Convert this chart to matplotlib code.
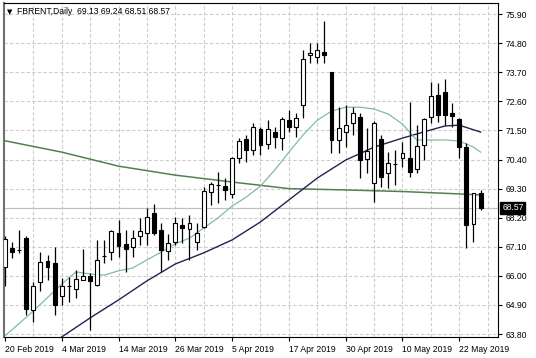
import matplotlib
matplotlib.use("Agg")
import matplotlib.pyplot as plt
import matplotlib.transforms as mtransforms

# daily FBRENT candles, one per trading day from 20 Feb 2019
opens = [66.33, 67.05, 66.99, 67.42, 64.71, 65.75, 66.57, 66.50, 65.24, 65.60,
         65.50, 65.85, 66.00, 65.66, 66.75, 66.92, 67.64, 67.21, 67.11, 67.49,
         67.61, 68.39, 67.74, 66.95, 67.30, 67.92, 67.76, 67.30, 67.86, 69.16,
         69.43, 69.41, 69.08, 70.45, 71.16, 70.76, 71.54, 70.97, 71.45, 71.20,
         71.89, 71.62, 72.46, 74.35, 74.29, 74.48, 73.70, 71.14, 71.45, 71.77,
         72.02, 70.41, 69.50, 71.16, 69.90, 70.23, 70.44, 70.44, 70.03, 70.95,
         72.02, 72.84, 72.96, 72.17, 71.92, 70.88, 67.96, 69.13]
highs = [67.50, 67.30, 67.74, 67.49, 65.78, 66.92, 66.79, 67.11, 65.91, 65.97,
         66.23, 67.00, 66.10, 67.36, 67.36, 67.74, 68.12, 67.74, 67.74, 68.18,
         68.56, 68.72, 67.99, 67.60, 68.24, 68.18, 68.30, 67.99, 69.37, 69.56,
         69.94, 69.69, 70.51, 71.20, 71.33, 71.77, 71.64, 71.89, 71.64, 72.02,
         72.27, 72.15, 74.54, 74.82, 74.79, 75.65, 73.70, 72.40, 72.46, 72.40,
         72.15, 71.58, 71.87, 71.33, 70.70, 70.76, 71.07, 72.59, 71.70, 71.96,
         73.34, 73.28, 73.43, 72.52, 71.96, 71.01, 69.12, 69.24]
lows = [65.60, 66.67, 66.86, 64.53, 64.27, 65.41, 65.85, 64.53, 64.90, 65.03,
        65.15, 65.85, 63.96, 65.60, 66.48, 66.60, 66.73, 66.16, 66.73, 67.17,
        67.17, 67.55, 66.16, 66.60, 67.17, 67.23, 66.60, 66.98, 67.80, 68.68,
        68.74, 68.87, 68.93, 70.28, 70.32, 70.57, 70.57, 70.79, 70.82, 70.76,
        71.45, 71.24, 71.96, 74.04, 74.04, 74.04, 70.63, 70.63, 70.89, 71.33,
        69.69, 69.88, 68.81, 69.37, 69.31, 69.44, 70.13, 69.75, 69.88, 70.38,
        71.77, 71.83, 71.70, 71.64, 70.44, 67.04, 67.29, 68.51]
closes = [67.39, 66.92, 66.97, 64.74, 65.60, 66.54, 66.35, 64.90, 65.60, 65.62,
          65.87, 66.00, 65.82, 66.60, 66.77, 67.68, 67.13, 67.01, 67.42, 67.68,
          68.24, 67.64, 66.98, 67.25, 68.01, 67.80, 67.99, 67.61, 69.21, 69.46,
          69.44, 69.25, 70.45, 71.10, 70.76, 71.64, 70.95, 71.55, 71.26, 71.92,
          71.62, 71.96, 74.19, 74.44, 74.56, 74.35, 71.14, 71.58, 71.70, 72.17,
          70.38, 70.73, 71.77, 69.75, 70.26, 70.24, 70.66, 69.94, 70.91, 71.92,
          72.80, 72.08, 72.08, 72.06, 70.86, 67.92, 69.12, 68.57]

# moving averages (bar index, value)
fast_idx = [0, 4, 8, 10, 12, 14, 16, 18, 20, 22, 24, 26, 28, 30, 32, 34, 36, 38,
            40, 42, 44, 46, 48, 50, 52, 54, 56, 57, 58, 60, 62, 64, 66, 67]
fast_ma = [63.73, 64.67, 65.69, 66.15, 66.07, 66.03, 66.19, 66.30, 66.60, 66.90,
           67.21, 67.43, 67.81, 68.19, 68.64, 68.98, 69.40, 70.00, 70.68, 71.33,
           71.89, 72.23, 72.38, 72.38, 72.31, 72.12, 71.74, 71.44, 71.14, 71.14,
           71.14, 71.10, 70.87, 70.68]
mid_idx = [7, 8, 12, 16, 20, 24, 28, 32, 36, 40, 44, 48, 52, 56, 60, 62, 64, 67]
mid_ma = [63.40, 63.69, 64.41, 65.09, 65.81, 66.45, 66.87, 67.36, 68.04, 68.87,
          69.70, 70.38, 70.87, 71.21, 71.52, 71.67, 71.70, 71.44]
slow_idx = [0, 8, 16, 24, 32, 40, 48, 56, 64, 67]
slow_ma = [71.11, 70.68, 70.15, 69.81, 69.55, 69.30, 69.25, 69.19, 69.10, 69.06]

date_labels = ["20 Feb 2019", "4 Mar 2019", "14 Mar 2019", "26 Mar 2019", "5 Apr 2019",
               "17 Apr 2019", "30 Apr 2019", "10 May 2019", "22 May 2019"]
price_ticks = [63.80, 64.90, 66.00, 67.10, 68.20, 69.30, 70.40, 71.50, 72.60, 73.70, 74.80, 75.90]
last_price = 68.57

W, H = 536, 358
fig = plt.figure(figsize=(W / 100, H / 100), dpi=100)
ax = fig.add_axes([4 / W, (H - 336.7) / H, (498.3 - 4) / W, (336.7 - 3) / H])
fs = 6.2
fam = "Liberation Sans"

n = len(closes)
xs = list(range(n))
ax.set_xlim(-0.13, 69.5)
ax.set_ylim(63.70, 76.32)

# grid
for g in range(4, n + 2, 4):
    ax.axvline(g, color="#cccccc", lw=0.8, ls=(0, (3, 2)), zorder=0)
for p in price_ticks:
    ax.axhline(p, color="#cccccc", lw=0.8, ls=(0, (3, 2)), zorder=0)

# current price line
ax.axhline(last_price, color="#c0c0c0", lw=0.9, zorder=1)

# moving averages
ax.plot(slow_idx, slow_ma, color="#4f8250", lw=1.1, zorder=2)
ax.plot(mid_idx, mid_ma, color="#23234f", lw=1.0, zorder=2)
ax.plot(fast_idx, fast_ma, color="#84bba0", lw=0.9, zorder=2)

# candles
ax.vlines(xs, lows, highs, color="black", lw=0.9, zorder=3)
bodies = [abs(c - o) if abs(c - o) > 0.02 else 0.02 for o, c in zip(opens, closes)]
bottoms = [min(o, c) for o, c in zip(opens, closes)]
fills = ["white" if c >= o else "black" for o, c in zip(opens, closes)]
ax.bar(xs, bodies, bottom=bottoms, width=0.55, color=fills,
       edgecolor="black", linewidth=0.8, zorder=4)

# axes styling
for side in ["top", "bottom", "right"]:
    ax.spines[side].set_color("black")
    ax.spines[side].set_linewidth(0.8)
ax.spines["left"].set_color("#707070")
ax.spines["left"].set_linewidth(1.5)

ax.yaxis.tick_right()
ax.set_yticks(price_ticks)
ax.set_yticklabels(["%.2f" % p for p in price_ticks], fontsize=fs, family=fam)
ax.set_xticks(list(range(0, 65, 8)))
ax.set_xticklabels(date_labels, fontsize=fs, family=fam, ha="left")
ax.tick_params(axis="both", length=3, width=0.8, pad=2, colors="black")
ax.tick_params(axis="x", pad=3)

# last price label on the axis
trans = mtransforms.blended_transform_factory(ax.transAxes, ax.transData)
ax.text(1.008, last_price, "%.2f" % last_price, transform=trans, fontsize=fs, family=fam,
        color="white", va="center", ha="left",
        bbox=dict(facecolor="black", edgecolor="black", pad=1.3))

fig.text(7 / W, 1 - 12 / H, "\u25bc", fontsize=5, family="DejaVu Sans",
         va="center", ha="left")
fig.text(17 / W, 1 - 12 / H, "FBRENT,Daily  69.13 69.24 68.51 68.57",
         fontsize=fs, family=fam, va="center", ha="left")

fig.savefig("out.png", dpi=100)
